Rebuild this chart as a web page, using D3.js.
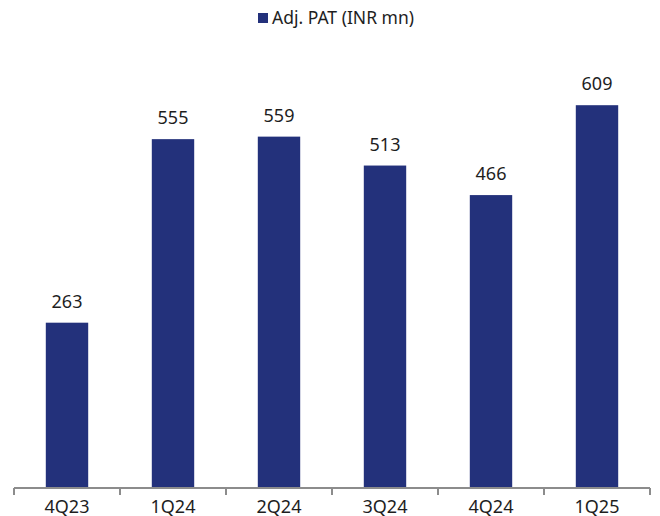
<!DOCTYPE html>
<html>
<head>
<meta charset="utf-8">
<script src="https://cdn.jsdelivr.net/npm/d3@7"></script>
<style>
  body { margin: 0; background: #fff; }
  svg text { font-family: "Noto Sans", "Open Sans", sans-serif; fill: #1e1e1e; }
</style>
</head>
<body>
<div id="chart"></div>
<script>
// data
const quarters = ["4Q23", "1Q24", "2Q24", "3Q24", "4Q24", "1Q25"];
const adjPat = [263, 555, 559, 513, 466, 609];
const seriesName = "Adj. PAT (INR mn)";

const width = 660, height = 516;
const margin = {top: 48, left: 14, right: 10, bottom: 28};
const BAR_COLOR = "#23317B";

const svg = d3.select("#chart").append("svg")
    .attr("width", width)
    .attr("height", height);

const x = d3.scaleBand()
    .domain(quarters)
    .range([margin.left, width - margin.right])
    .paddingInner(0.6)
    .paddingOuter(0.3);

const y = d3.scaleLinear()
    .domain([0, 700])
    .range([height - margin.bottom, margin.top]);

// bars
svg.selectAll(".bar")
    .data(adjPat)
    .enter()
    .append("rect")
    .attr("class", "bar")
    .attr("x", (d, i) => x(quarters[i]))
    .attr("width", x.bandwidth())
    .attr("y", d => y(d))
    .attr("height", d => y(0) - y(d))
    .attr("fill", BAR_COLOR);

// value labels
svg.selectAll(".val")
    .data(adjPat)
    .enter()
    .append("text")
    .attr("class", "val")
    .attr("x", (d, i) => x(quarters[i]) + x.bandwidth() / 2)
    .attr("y", d => y(d) - 15)
    .attr("text-anchor", "middle")
    .attr("font-size", 18)
    .text(d => d);

// x axis: line plus ticks at category boundaries
const axisY = y(0);
const step = x.step();
const x0 = margin.left;
const axis = svg.append("g").attr("class", "axis");
axis.append("line")
    .attr("x1", x0).attr("x2", width - margin.right)
    .attr("y1", axisY).attr("y2", axisY)
    .attr("stroke", "#8c8c8c")
    .attr("stroke-width", 2);

const boundaries = d3.range(quarters.length + 1).map(i => x0 + i * step);
axis.selectAll(".tick")
    .data(boundaries)
    .enter()
    .append("line")
    .attr("x1", d => d).attr("x2", d => d)
    .attr("y1", axisY).attr("y2", axisY + 7)
    .attr("stroke", "#8c8c8c")
    .attr("stroke-width", 2);

axis.selectAll(".lbl")
    .data(quarters)
    .enter()
    .append("text")
    .attr("x", d => x(d) + x.bandwidth() / 2)
    .attr("y", axisY + 25)
    .attr("text-anchor", "middle")
    .attr("font-size", 18)
    .text(d => d);

// legend
const legend = svg.append("g").attr("transform", "translate(258, 13)");
legend.append("rect")
    .attr("width", 10).attr("height", 10)
    .attr("fill", BAR_COLOR);
legend.append("text")
    .attr("x", 14).attr("y", 11)
    .attr("font-size", 17.5)
    .text(seriesName);
</script>
</body>
</html>
